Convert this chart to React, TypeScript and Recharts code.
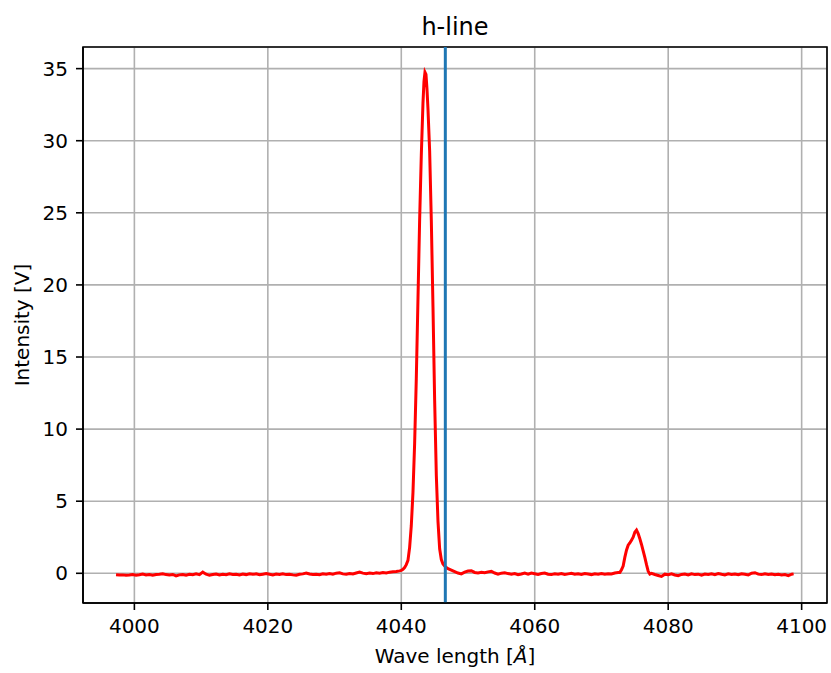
import { LineChart, Line, XAxis, YAxis, CartesianGrid, ReferenceLine, ReferenceArea } from "recharts";

// baseline before the big line
const WAVE_A = [
  3997.25, 3997.75, 3998.25, 3998.75, 3999.25, 3999.75, 4000.25, 4000.75, 4001.25, 4001.75,
  4002.25, 4002.75, 4003.25, 4003.75, 4004.25, 4004.75, 4005.25, 4005.75, 4006.25, 4006.75,
  4007.25, 4007.75, 4008.25, 4008.75, 4009.25, 4009.75, 4010.25, 4010.75, 4011.25, 4011.75,
  4012.25, 4012.75, 4013.25, 4013.75, 4014.25, 4014.75, 4015.25, 4015.75, 4016.25, 4016.75,
  4017.25, 4017.75, 4018.25, 4018.75, 4019.25, 4019.75, 4020.25, 4020.75, 4021.25, 4021.75,
  4022.25, 4022.75, 4023.25, 4023.75, 4024.25, 4024.75, 4025.25, 4025.75, 4026.25, 4026.75,
  4027.25, 4027.75, 4028.25, 4028.75, 4029.25, 4029.75, 4030.25, 4030.75, 4031.25, 4031.75,
  4032.25, 4032.75, 4033.25, 4033.75, 4034.25, 4034.75, 4035.25, 4035.75, 4036.25, 4036.75,
  4037.25, 4037.75, 4038.25, 4038.75, 4039.25, 4039.75,
];
const INT_A = [
  -0.1, -0.12, -0.11, -0.14, -0.12, -0.09, -0.13, -0.1, -0.05, -0.12,
  -0.09, -0.13, -0.08, -0.06, -0.03, -0.09, -0.12, -0.08, -0.18, -0.11,
  -0.08, -0.13, -0.07, -0.1, -0.04, -0.09, 0.08, -0.06, -0.14, -0.09,
  -0.05, -0.12, -0.07, -0.1, -0.04, -0.08, -0.06, -0.11, -0.05, -0.09,
  -0.03, -0.07, -0.04, -0.1, -0.06, -0.02, -0.07, -0.12, -0.05, -0.08,
  -0.03, -0.09, -0.06, -0.11, -0.13, -0.07, -0.04, 0.02, -0.05, -0.09,
  -0.06, -0.1, -0.04, -0.07, -0.02, -0.06, 0.01, 0.03, -0.04, -0.07,
  -0.02, -0.05, 0.02, 0.08, 0.01, -0.03, 0.02, -0.02, 0.04, 0.01,
  0.06, 0.03, 0.08, 0.1, 0.12, 0.17,
];

// main emission line
const WAVE_B = [
  4040.0, 4040.25, 4040.5, 4040.75, 4041.0, 4041.25, 4041.5, 4041.75, 4042.0, 4042.25,
  4042.5, 4042.75, 4043.0, 4043.25, 4043.4, 4043.55, 4043.7, 4043.85, 4044.0, 4044.25, 4044.5,
  4044.75, 4045.0, 4045.25, 4045.5, 4045.75, 4046.0, 4046.25, 4046.5, 4046.75, 4047.0,
];
const INT_B = [
  0.2, 0.28, 0.4, 0.6, 0.9, 1.8, 3.3, 5.6, 9.0, 13.5,
  19.0, 24.5, 29.0, 32.6, 34.1, 34.75, 34.6, 33.6, 32.2, 29.3, 24.5,
  18.5, 12.0, 6.8, 3.6, 1.7, 0.95, 0.65, 0.5, 0.4, 0.32,
];

// baseline between the two lines
const WAVE_C = [
  4047.5, 4048.0, 4048.5, 4049.0, 4049.5, 4050.0, 4050.5, 4051.0, 4051.5, 4052.0,
  4052.5, 4053.0, 4053.5, 4054.0, 4054.5, 4055.0, 4055.5, 4056.0, 4056.5, 4057.0,
  4057.5, 4058.0, 4058.5, 4059.0, 4059.5, 4060.0, 4060.5, 4061.0, 4061.5, 4062.0,
  4062.5, 4063.0, 4063.5, 4064.0, 4064.5, 4065.0, 4065.5, 4066.0, 4066.5, 4067.0,
  4067.5, 4068.0, 4068.5, 4069.0, 4069.5, 4070.0, 4070.5, 4071.0, 4071.5, 4072.0,
  4072.5,
];
const INT_C = [
  0.22, 0.12, 0.02, -0.04, 0.08, 0.16, 0.18, 0.06, 0.03, 0.07,
  0.04, 0.1, 0.14, 0.02, -0.06, 0.01, 0.04, -0.02, -0.07, -0.02,
  -0.1, -0.05, 0.01, -0.06, 0.02, -0.03, -0.08, -0.02, 0.02, -0.06,
  -0.09, -0.04, -0.07, -0.02, -0.08, -0.04, 0.0, -0.06, -0.03, -0.08,
  -0.02, -0.05, -0.09, -0.03, -0.06, -0.01, -0.07, -0.03, -0.05, 0.02,
  0.05,
];

// small line near 4075
const WAVE_D = [
  4072.75, 4073.0, 4073.25, 4073.5, 4073.75, 4074.0, 4074.25, 4074.5, 4074.75, 4075.0,
  4075.25, 4075.5, 4075.75, 4076.0, 4076.25, 4076.5, 4076.75, 4077.0, 4077.25, 4077.5,
];
const INT_D = [
  0.05, 0.25, 0.5, 1.1, 1.6, 1.95, 2.1, 2.3, 2.5, 2.85,
  3.0, 2.75, 2.4, 2.0, 1.55, 1.1, 0.6, 0.15, -0.05, 0.0,
];

// baseline to the end
const WAVE_E = [
  4078.0, 4078.5, 4079.0, 4079.5, 4080.0, 4080.5, 4081.0, 4081.5, 4082.0, 4082.5,
  4083.0, 4083.5, 4084.0, 4084.5, 4085.0, 4085.5, 4086.0, 4086.5, 4087.0, 4087.5,
  4088.0, 4088.5, 4089.0, 4089.5, 4090.0, 4090.5, 4091.0, 4091.5, 4092.0, 4092.5,
  4093.0, 4093.5, 4094.0, 4094.5, 4095.0, 4095.5, 4096.0, 4096.5, 4097.0, 4097.5,
  4098.0, 4098.5, 4098.8,
];
const INT_E = [
  -0.08, -0.15, -0.22, -0.06, -0.1, -0.04, -0.12, -0.17, -0.08, -0.05,
  -0.11, -0.04, -0.09, -0.06, -0.13, -0.05, -0.08, -0.03, -0.09, -0.02,
  -0.07, -0.11, -0.04, -0.08, -0.05, -0.1, -0.03, -0.07, -0.12, 0.01,
  0.04, -0.06, -0.09, -0.04, -0.08, -0.05, -0.1, -0.07, -0.12, -0.09,
  -0.16, -0.06, -0.04,
];

const X_TICKS = [4000, 4020, 4040, 4060, 4080, 4100];
const Y_TICKS = [0, 5, 10, 15, 20, 25, 30, 35];
const X_DOMAIN = [3992.3, 4103.8];
const Y_DOMAIN = [-2.06, 36.5];
const MARKER = 4046.6;

const SEGMENTS: [number[], number[]][] = [
  [WAVE_A, INT_A],
  [WAVE_B, INT_B],
  [WAVE_C, INT_C],
  [WAVE_D, INT_D],
  [WAVE_E, INT_E],
];
const data = SEGMENTS.flatMap(([w, v]) => w.map((x, i) => ({ w: x, v: v[i] })));

const FONT = "'DejaVu Sans', sans-serif";
const tickStyle = { fontSize: 20, fill: "#000", fontFamily: FONT };

const XLabel = () => (
  <text x={455} y={663} textAnchor="middle" fontSize={20} fontFamily={FONT} fill="#000">
    Wave length [<tspan fontStyle="italic">Å</tspan>]
  </text>
);

const YLabel = () => (
  <text
    x={22}
    y={325}
    transform="rotate(-90 22 325)"
    textAnchor="middle"
    dominantBaseline="central"
    fontSize={20}
    fontFamily={FONT}
    fill="#000"
  >
    Intensity [V]
  </text>
);

export default function App() {
  return (
    <div style={{ position: "absolute", left: 0, top: 0, width: 831, height: 673, background: "#fff" }}>
      <div
        style={{
          position: "absolute",
          left: 0,
          width: 910,
          top: 13,
          textAlign: "center",
          fontFamily: FONT,
          fontSize: 24,
          lineHeight: "28px",
          color: "#000",
        }}
      >
        h-line
      </div>
      <LineChart width={831} height={673} data={data} margin={{ top: 47, right: 4, bottom: 0, left: 0 }}>
        <CartesianGrid stroke="#b0b0b0" strokeWidth={1.6} />
        <XAxis
          dataKey="w"
          type="number"
          domain={X_DOMAIN}
          ticks={X_TICKS}
          allowDataOverflow
          height={70}
          tickSize={7}
          tickMargin={9}
          tick={tickStyle}
          tickLine={{ stroke: "#000", strokeWidth: 1.6 }}
          axisLine={{ stroke: "#000", strokeWidth: 1.6 }}
          label={<XLabel />}
        />
        <YAxis
          type="number"
          domain={Y_DOMAIN}
          ticks={Y_TICKS}
          allowDataOverflow
          width={83}
          tickSize={7}
          tickMargin={8}
          tick={tickStyle}
          tickLine={{ stroke: "#000", strokeWidth: 1.6 }}
          axisLine={{ stroke: "#000", strokeWidth: 1.6 }}
          label={<YLabel />}
        />
        <Line
          dataKey="v"
          type="linear"
          stroke="#ff0000"
          strokeWidth={3}
          dot={false}
          isAnimationActive={false}
        />
        <ReferenceLine x={MARKER} stroke="#1f77b4" strokeWidth={3} />
        <ReferenceArea
          x1={X_DOMAIN[0]}
          x2={X_DOMAIN[1]}
          y1={Y_DOMAIN[0]}
          y2={Y_DOMAIN[1]}
          fill="none"
          stroke="#000"
          strokeWidth={1.6}
        />
      </LineChart>
    </div>
  );
}
